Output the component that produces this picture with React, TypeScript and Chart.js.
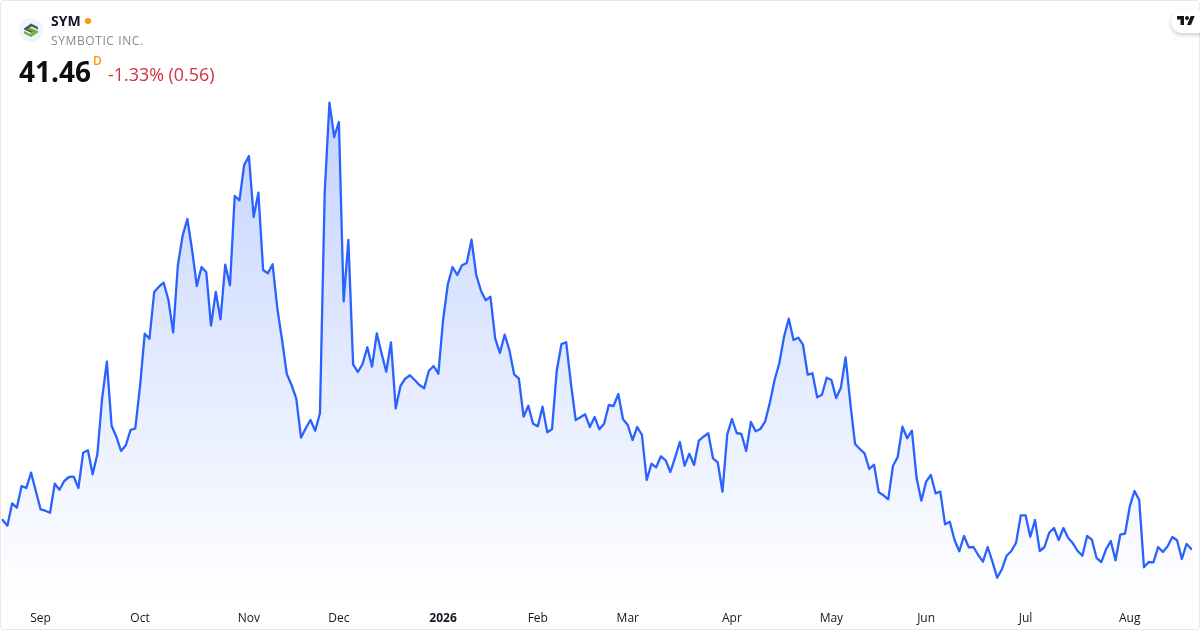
import React, { useEffect, useRef } from "react";
import { Chart, registerables } from "chart.js";

Chart.register(...registerables);

const prices = [
  44.36, 43.79, 46.03, 45.59, 47.76, 47.56, 49.09, 47.26, 45.43, 45.29, 45.09, 47.99,
  47.39, 48.26, 48.66, 48.69, 47.56, 51.09, 51.33, 48.93, 50.96, 56.53, 60.19, 53.79,
  52.69, 51.26, 51.83, 53.36, 53.53, 57.69, 62.99, 62.49, 67.16, 67.69, 68.09, 66.36,
  63.13, 69.86, 72.79, 74.46, 71.36, 67.76, 69.66, 69.13, 63.79, 67.16, 64.43, 69.89,
  67.83, 76.76, 76.33, 79.86, 80.76, 74.66, 77.09, 69.36, 69.03, 69.93, 65.53, 62.36,
  58.96, 57.86, 56.49, 52.59, 53.53, 54.36, 53.29, 55.03, 77.06, 86.09, 82.66, 84.16,
  66.23, 72.36, 59.93, 59.16, 59.96, 61.63, 59.69, 63.03, 61.03, 59.19, 62.13, 55.53,
  57.76, 58.49, 58.83, 58.36, 57.86, 57.53, 59.29, 59.76, 58.99, 64.36, 67.93, 69.66,
  68.86, 69.83, 70.06, 72.39, 68.86, 67.29, 66.33, 66.69, 62.53, 61.06, 62.89, 61.36,
  58.93, 58.49, 54.69, 55.79, 53.99, 53.73, 55.69, 53.13, 53.43, 59.29, 61.96, 62.13,
  58.03, 54.36, 54.63, 54.93, 53.66, 54.66, 53.43, 53.99, 55.86, 55.76, 56.96, 54.43,
  53.86, 52.36, 53.66, 52.86, 48.36, 49.99, 49.63, 50.73, 50.33, 49.16, 50.63, 52.16,
  49.79, 50.99, 49.86, 52.29, 52.69, 53.03, 50.53, 50.13, 47.19, 52.89, 54.46, 53.06,
  52.96, 51.26, 54.16, 53.23, 53.46, 54.19, 56.09, 58.36, 60.03, 62.69, 64.49, 62.36,
  62.59, 61.89, 58.89, 59.03, 56.63, 56.89, 58.59, 58.36, 56.56, 57.59, 60.63, 56.03,
  51.96, 51.46, 51.03, 49.46, 49.89, 47.13, 46.83, 46.43, 49.76, 50.66, 53.69, 52.53,
  53.29, 48.53, 46.29, 48.19, 48.86, 47.03, 47.19, 43.93, 44.19, 42.36, 41.23, 42.76,
  41.63, 41.66, 40.86, 40.19, 41.66, 40.19, 38.59, 39.43, 40.79, 41.26, 42.09, 44.83,
  44.83, 42.69, 44.36, 41.26, 41.66, 43.09, 43.56, 42.36, 43.56, 42.56, 42.03, 41.26,
  40.79, 42.76, 42.39, 40.56, 40.16, 41.43, 42.26, 40.33, 42.89, 42.99, 45.69, 47.26,
  46.36, 39.63, 40.16, 40.13, 41.66, 41.16, 41.73, 42.66, 42.33, 40.46, 41.96, 41.46,
];

const tickPositions = [8, 29, 52, 71, 93, 113, 132, 154, 175, 195, 216, 238];
const tickLabels = ["Sep", "Oct", "Nov", "Dec", "2026", "Feb", "Mar", "Apr", "May", "Jun", "Jul", "Aug"];
const categories = prices.map((_, i) => {
  const k = tickPositions.indexOf(i);
  return k >= 0 ? tickLabels[k] : "";
});

const FONT = "'Open Sans', sans-serif";

export default function App() {
  const ref = useRef<HTMLCanvasElement>(null);

  useEffect(() => {
    if (!ref.current) return;
    const chart = new Chart(ref.current, {
      type: "line",
      data: {
        labels: categories,
        datasets: [
          {
            data: prices,
            borderColor: "#2962FF",
            borderWidth: 2.3,
            borderJoinStyle: "round",
            borderCapStyle: "round",
            pointRadius: 0,
            tension: 0,
            fill: "start",
            backgroundColor: (ctx: any) => {
              const g = ctx.chart.ctx.createLinearGradient(0, 102, 0, 600);
              g.addColorStop(0, "rgba(41,98,255,0.28)");
              g.addColorStop(1, "rgba(41,98,255,0)");
              return g;
            },
          },
        ],
      },
      options: {
        animation: false,
        responsive: false,
        maintainAspectRatio: false,
        layout: { padding: { left: 2.67, right: 8.7, top: 90, bottom: 0 } },
        plugins: { legend: { display: false }, tooltip: { enabled: false }, title: { display: false } },
        scales: {
          x: {
            type: "category",
            offset: false,
            border: { display: false },
            grid: { display: false, drawTicks: false },
            afterFit: (s: any) => {
              s.height = 30;
            },
            ticks: {
              autoSkip: false,
              maxRotation: 0,
              minRotation: 0,
              padding: 11,
              color: "#131722",
              font: (ctx: any) => ({
                family: FONT,
                size: 12,
                weight: ctx.tick && ctx.tick.label === "2026" ? "bold" : "normal",
              }),
              callback: (_v: any, i: number) => categories[i] || null,
            },
          },
          y: { display: false, min: 36.36, max: 87.36 },
        },
      },
    } as any);
    return () => chart.destroy();
  }, []);

  return (
    <div style={{ position: "fixed", left: 0, top: 0, width: 1200, height: 630, background: "#fff", overflow: "hidden", fontFamily: FONT }}>
      <canvas ref={ref} width={1200} height={630} style={{ position: "absolute", left: 0, top: 0, width: 1200, height: 630 }} />
      <div style={{ position: "absolute", inset: 0, border: "1px solid #e8e8e8", borderRadius: 4, boxSizing: "border-box", pointerEvents: "none" }} />
      <svg width={24} height={24} viewBox="0 0 24 24" style={{ position: "absolute", left: 19, top: 18 }}>
        <circle cx={12} cy={12} r={12} fill="#f0f3fa" />
        <path d="M5 10.5 L12 5.5 L19 9 L19 11.5 L12.5 8.5 L9.5 10.5 L15.5 13 L12.5 15 L5 11.5 Z" fill="#55565a" />
        <path d="M5 14 L11.5 9.8 L12.5 10 L15.5 11.5 L19 13 L19 14.5 L12 19 L5 15.5 L5 13 L11.5 16 L14.5 14 L9.5 11.7 L5 14 Z" fill="#6cb33f" />
      </svg>
      <div style={{ position: "absolute", left: 51, top: 12, fontSize: 14, lineHeight: "18px", fontWeight: 700, color: "#131722" }}>SYM</div>
      <div style={{ position: "absolute", left: 85, top: 18, width: 6, height: 6, borderRadius: 3, background: "#ff9800" }} />
      <div style={{ position: "absolute", left: 51, top: 32, fontSize: 12, lineHeight: "18px", color: "#8a8a8a", letterSpacing: 0.6 }}>SYMBOTIC INC.</div>
      <div style={{ position: "absolute", left: 19, top: 52, fontSize: 28, lineHeight: "38px", fontWeight: 700, color: "#0f0f0f" }}>41.46</div>
      <div style={{ position: "absolute", left: 93, top: 53, fontSize: 12, lineHeight: "16px", fontWeight: 600, color: "#ff9800" }}>D</div>
      <div style={{ position: "absolute", left: 108, top: 61, fontSize: 17.9, lineHeight: "26px", color: "#d32f3f" }}>-1.33% (0.56)</div>
      <div style={{ position: "absolute", left: 1171, top: 10, width: 40, height: 23, borderRadius: 12, background: "#fff", boxShadow: "0 2px 4px rgba(0,0,0,0.2)" }} />
      <svg width={18} height={14} viewBox="0 0 36 28" style={{ position: "absolute", left: 1177, top: 14 }}>
        <path d="M14 22H7V11H0V4h14v18zM28 22h-8l7.5-18h8L28 22z" fill="#131722" />
        <circle cx={20} cy={8} r={4} fill="#131722" />
      </svg>
    </div>
  );
}
